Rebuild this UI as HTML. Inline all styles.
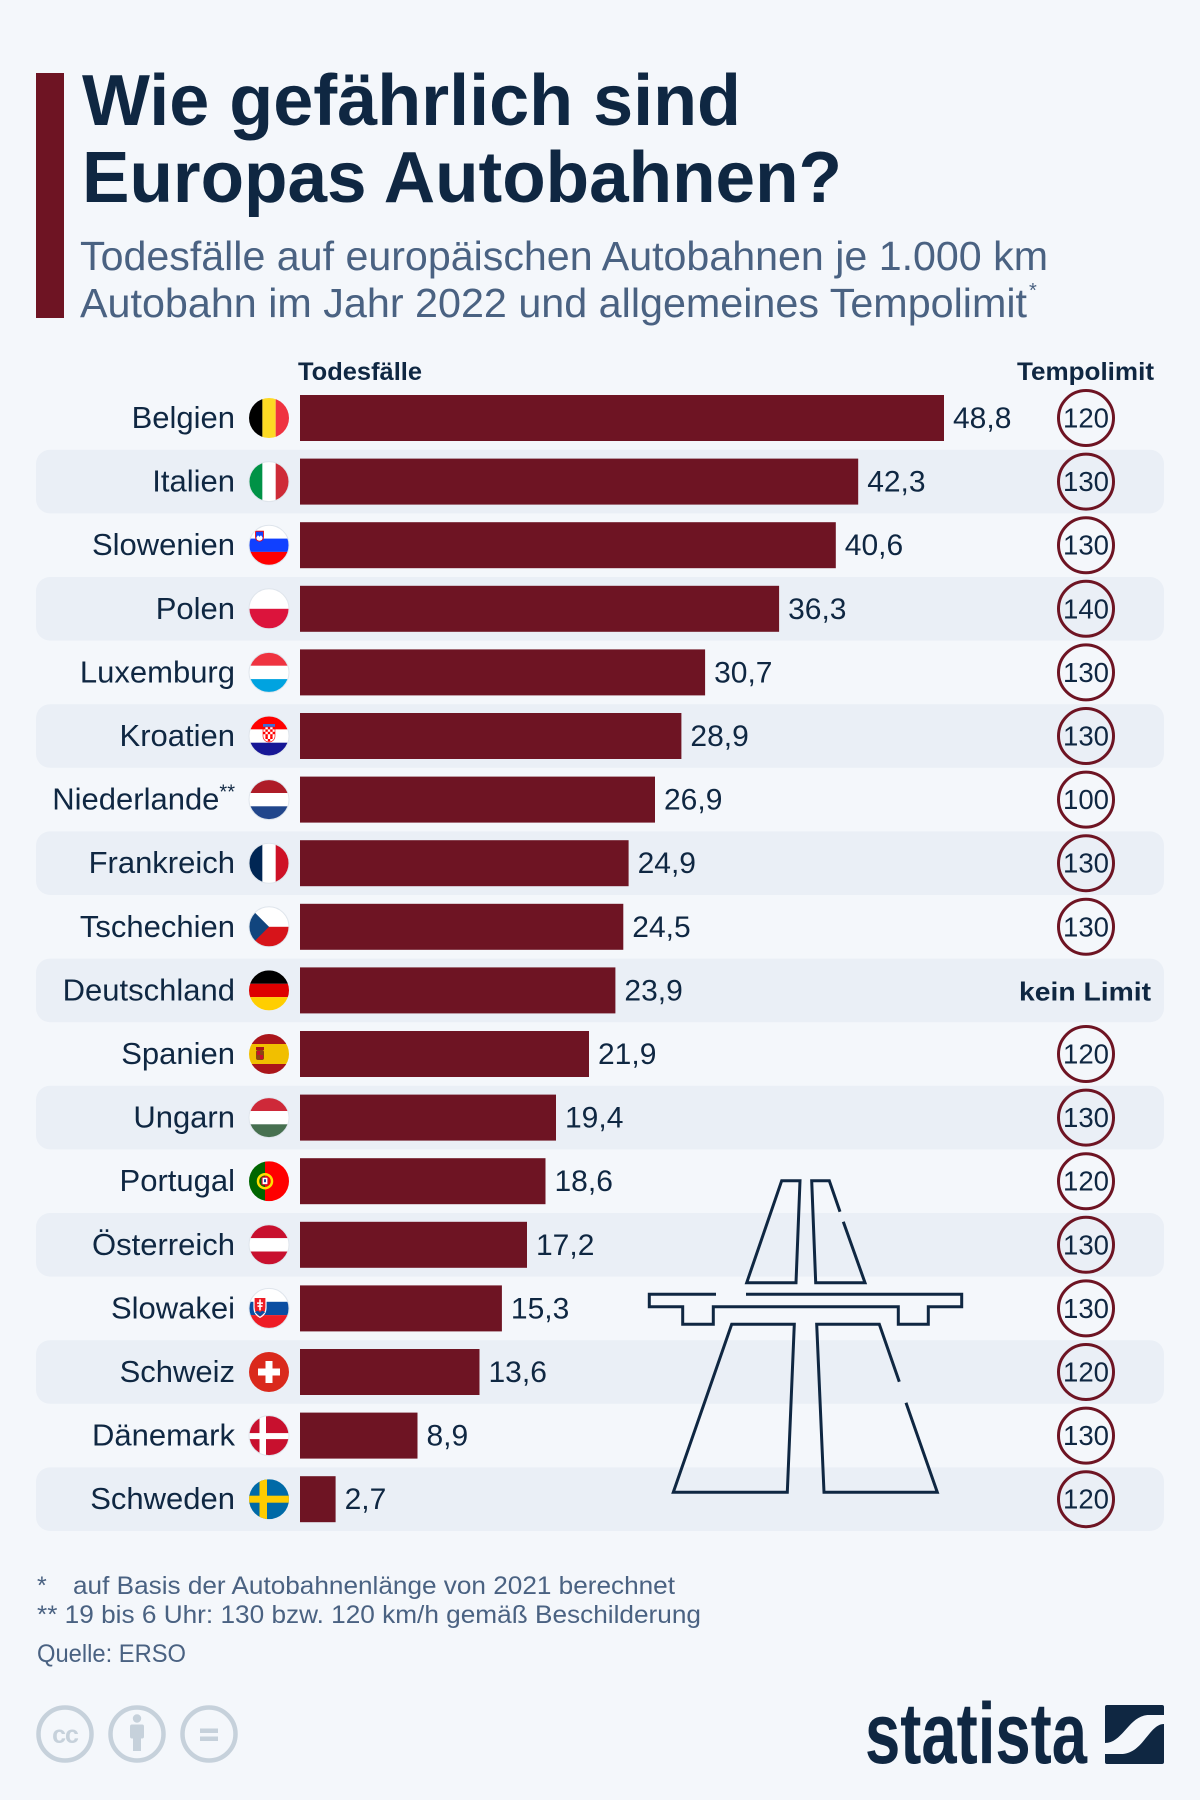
<!DOCTYPE html>
<html>
<head>
<meta charset="utf-8">
<style>
html,body{margin:0;padding:0;background:#f4f7fb;}
svg{display:block;}
</style>
</head>
<body>
<svg width="1200" height="1800" viewBox="0 0 1200 1800" xmlns="http://www.w3.org/2000/svg" font-family="'Liberation Sans', sans-serif">
<defs>
<clipPath id="fc"><circle cx="0" cy="0" r="20"/></clipPath>
</defs>
<rect x="0" y="0" width="1200" height="1800" fill="#f4f7fb"/>

<!-- Title block -->
<rect x="36" y="73" width="28" height="245" fill="#6e1423"/>
<text x="82" y="125" font-size="72" font-weight="bold" fill="#0f2742" textLength="659" lengthAdjust="spacingAndGlyphs">Wie gefährlich sind</text>
<text x="82" y="202" font-size="72" font-weight="bold" fill="#0f2742" textLength="760" lengthAdjust="spacingAndGlyphs">Europas Autobahnen?</text>
<text x="80" y="270" font-size="41" fill="#4a6282" textLength="968" lengthAdjust="spacingAndGlyphs">Todesfälle auf europäischen Autobahnen je 1.000 km</text>
<text x="80" y="317" font-size="41" fill="#4a6282" textLength="947" lengthAdjust="spacingAndGlyphs">Autobahn im Jahr 2022 und allgemeines Tempolimit</text>
<text x="1029" y="297" font-size="20" fill="#4a6282">*</text>

<!-- Headers -->
<text x="298" y="380" font-size="25" font-weight="bold" fill="#0f2742" textLength="124" lengthAdjust="spacingAndGlyphs">Todesfälle</text>
<text x="1017" y="380" font-size="25" font-weight="bold" fill="#0f2742" textLength="137" lengthAdjust="spacingAndGlyphs">Tempolimit</text>

<!-- Stripes -->
<g fill="#eaeff6">
<rect x="36" y="449.8" width="1128" height="63.6" rx="14"/>
<rect x="36" y="577" width="1128" height="63.6" rx="14"/>
<rect x="36" y="704.2" width="1128" height="63.6" rx="14"/>
<rect x="36" y="831.4" width="1128" height="63.6" rx="14"/>
<rect x="36" y="958.6" width="1128" height="63.6" rx="14"/>
<rect x="36" y="1085.8" width="1128" height="63.6" rx="14"/>
<rect x="36" y="1213" width="1128" height="63.6" rx="14"/>
<rect x="36" y="1340.2" width="1128" height="63.6" rx="14"/>
<rect x="36" y="1467.4" width="1128" height="63.6" rx="14"/>
</g>

<!-- Highway icon -->
<g fill="none" stroke="#0f2742" stroke-width="3" stroke-linejoin="miter">
<path d="M781.7,1180.7 L800,1180.7 L796,1282.7 L746.7,1282.7 Z"/>
<path d="M840,1211.7 L829.3,1180.7 L811.7,1180.7 L815.7,1282.7 L865,1282.7 L843.3,1221.7"/>
<path d="M716,1294.3 L649.3,1294.3 L649.3,1306.7 L682.7,1306.7 L682.7,1324.3 L713.3,1324.3 L713.3,1306.7 L898.3,1306.7 L898.3,1324.3 L928.3,1324.3 L928.3,1306.7 L961.7,1306.7 L961.7,1294.3 L746,1294.3"/>
<path d="M731.7,1324.3 L794.3,1324.3 L787.3,1492.3 L673.3,1492.3 Z"/>
<path d="M899.3,1381.7 L879.3,1324.3 L816.7,1324.3 L824,1492.3 L937.3,1492.3 L906,1402.7"/>
</g>

<!-- Bars -->
<g fill="#6e1423">
<rect x="300" y="395" width="644" height="46"/>
<rect x="300" y="458.6" width="558.2" height="46"/>
<rect x="300" y="522.2" width="535.8" height="46"/>
<rect x="300" y="585.8" width="479.1" height="46"/>
<rect x="300" y="649.4" width="405.1" height="46"/>
<rect x="300" y="713" width="381.4" height="46"/>
<rect x="300" y="776.6" width="355" height="46"/>
<rect x="300" y="840.2" width="328.6" height="46"/>
<rect x="300" y="903.8" width="323.3" height="46"/>
<rect x="300" y="967.4" width="315.4" height="46"/>
<rect x="300" y="1031" width="289" height="46"/>
<rect x="300" y="1094.6" width="256" height="46"/>
<rect x="300" y="1158.2" width="245.5" height="46"/>
<rect x="300" y="1221.8" width="227" height="46"/>
<rect x="300" y="1285.4" width="201.9" height="46"/>
<rect x="300" y="1349" width="179.5" height="46"/>
<rect x="300" y="1412.6" width="117.5" height="46"/>
<rect x="300" y="1476.2" width="35.6" height="46"/>
</g>

<!-- Values -->
<g font-size="30" fill="#0f2742">
<text x="953" y="428">48,8</text>
<text x="867.2" y="491.6">42,3</text>
<text x="844.8" y="555.2">40,6</text>
<text x="788.1" y="618.8">36,3</text>
<text x="714.1" y="682.4">30,7</text>
<text x="690.4" y="746">28,9</text>
<text x="664" y="809.6">26,9</text>
<text x="637.6" y="873.2">24,9</text>
<text x="632.3" y="936.8">24,5</text>
<text x="624.4" y="1000.4">23,9</text>
<text x="598" y="1064">21,9</text>
<text x="565" y="1127.6">19,4</text>
<text x="554.5" y="1191.2">18,6</text>
<text x="536" y="1254.8">17,2</text>
<text x="510.9" y="1318.4">15,3</text>
<text x="488.5" y="1382">13,6</text>
<text x="426.5" y="1445.6">8,9</text>
<text x="344.6" y="1509.2">2,7</text>
</g>

<!-- Labels -->
<g font-size="31" fill="#0f2742" text-anchor="end">
<text x="235" y="428">Belgien</text>
<text x="235" y="491.6">Italien</text>
<text x="235" y="555.2">Slowenien</text>
<text x="235" y="618.8">Polen</text>
<text x="235" y="682.4">Luxemburg</text>
<text x="235" y="746">Kroatien</text>
<text x="235" y="809.6">Niederlande<tspan font-size="20" dy="-11">**</tspan></text>
<text x="235" y="873.2">Frankreich</text>
<text x="235" y="936.8">Tschechien</text>
<text x="235" y="1000.4">Deutschland</text>
<text x="235" y="1064">Spanien</text>
<text x="235" y="1127.6">Ungarn</text>
<text x="235" y="1191.2">Portugal</text>
<text x="235" y="1254.8">Österreich</text>
<text x="235" y="1318.4">Slowakei</text>
<text x="235" y="1382">Schweiz</text>
<text x="235" y="1445.6">Dänemark</text>
<text x="235" y="1509.2">Schweden</text>
</g>

<!-- Speed limit circles -->
<g fill="none" stroke="#6e1423" stroke-width="3">
<circle cx="1086" cy="418" r="27.5"/>
<circle cx="1086" cy="481.6" r="27.5"/>
<circle cx="1086" cy="545.2" r="27.5"/>
<circle cx="1086" cy="608.8" r="27.5"/>
<circle cx="1086" cy="672.4" r="27.5"/>
<circle cx="1086" cy="736" r="27.5"/>
<circle cx="1086" cy="799.6" r="27.5"/>
<circle cx="1086" cy="863.2" r="27.5"/>
<circle cx="1086" cy="926.8" r="27.5"/>
<circle cx="1086" cy="1054" r="27.5"/>
<circle cx="1086" cy="1117.6" r="27.5"/>
<circle cx="1086" cy="1181.2" r="27.5"/>
<circle cx="1086" cy="1244.8" r="27.5"/>
<circle cx="1086" cy="1308.4" r="27.5"/>
<circle cx="1086" cy="1372" r="27.5"/>
<circle cx="1086" cy="1435.6" r="27.5"/>
<circle cx="1086" cy="1499.2" r="27.5"/>
</g>
<g font-size="28" fill="#0f2742" text-anchor="middle">
<text x="1086" y="427.5" textLength="46" lengthAdjust="spacingAndGlyphs">120</text>
<text x="1086" y="491.1" textLength="46" lengthAdjust="spacingAndGlyphs">130</text>
<text x="1086" y="554.7" textLength="46" lengthAdjust="spacingAndGlyphs">130</text>
<text x="1086" y="618.3" textLength="46" lengthAdjust="spacingAndGlyphs">140</text>
<text x="1086" y="681.9" textLength="46" lengthAdjust="spacingAndGlyphs">130</text>
<text x="1086" y="745.5" textLength="46" lengthAdjust="spacingAndGlyphs">130</text>
<text x="1086" y="809.1" textLength="46" lengthAdjust="spacingAndGlyphs">100</text>
<text x="1086" y="872.7" textLength="46" lengthAdjust="spacingAndGlyphs">130</text>
<text x="1086" y="936.3" textLength="46" lengthAdjust="spacingAndGlyphs">130</text>
<text x="1086" y="1063.5" textLength="46" lengthAdjust="spacingAndGlyphs">120</text>
<text x="1086" y="1127.1" textLength="46" lengthAdjust="spacingAndGlyphs">130</text>
<text x="1086" y="1190.7" textLength="46" lengthAdjust="spacingAndGlyphs">120</text>
<text x="1086" y="1254.3" textLength="46" lengthAdjust="spacingAndGlyphs">130</text>
<text x="1086" y="1317.9" textLength="46" lengthAdjust="spacingAndGlyphs">130</text>
<text x="1086" y="1381.5" textLength="46" lengthAdjust="spacingAndGlyphs">120</text>
<text x="1086" y="1445.1" textLength="46" lengthAdjust="spacingAndGlyphs">130</text>
<text x="1086" y="1508.7" textLength="46" lengthAdjust="spacingAndGlyphs">120</text>
</g>
<text x="1019" y="1000.7" font-size="26" font-weight="bold" fill="#0f2742" textLength="132" lengthAdjust="spacingAndGlyphs">kein Limit</text>

<!-- Flags -->
<!-- Belgium -->
<g transform="translate(269,418)"><g clip-path="url(#fc)">
<rect x="-20" y="-20" width="13.4" height="40" fill="#000"/>
<rect x="-6.6" y="-20" width="13.3" height="40" fill="#fdda24"/>
<rect x="6.7" y="-20" width="13.3" height="40" fill="#ef3340"/>
</g></g>
<!-- Italy -->
<g transform="translate(269,481.6)"><g clip-path="url(#fc)">
<rect x="-20" y="-20" width="13.4" height="40" fill="#009246"/>
<rect x="-6.6" y="-20" width="13.3" height="40" fill="#fff"/>
<rect x="6.7" y="-20" width="13.3" height="40" fill="#ce2b37"/>
</g><circle r="20" fill="none" stroke="#dfe5ec" stroke-width="1"/></g>
<!-- Slovenia -->
<g transform="translate(269,545.2)"><g clip-path="url(#fc)">
<rect x="-20" y="-20" width="40" height="13.4" fill="#fff"/>
<rect x="-20" y="-6.6" width="40" height="13.3" fill="#1040ff"/>
<rect x="-20" y="6.7" width="40" height="13.3" fill="#ff0000"/>
<path d="M-13.5,-14 h8 v6 a4,4 0 0 1 -8,0 z" fill="#1040ff" stroke="#ff0000" stroke-width="0.8"/>
<path d="M-12.5,-8 l1.5,-2 l1.5,1.5 l1.5,-1.5 l1.5,2 v1 a3,2.5 0 0 1 -6,0 z" fill="#fff"/>
</g><circle r="20" fill="none" stroke="#dfe5ec" stroke-width="1"/></g>
<!-- Poland -->
<g transform="translate(269,608.8)"><g clip-path="url(#fc)">
<rect x="-20" y="-20" width="40" height="20" fill="#fff"/>
<rect x="-20" y="0" width="40" height="20" fill="#dc143c"/>
</g><circle r="20" fill="none" stroke="#dfe5ec" stroke-width="1"/></g>
<!-- Luxembourg -->
<g transform="translate(269,672.4)"><g clip-path="url(#fc)">
<rect x="-20" y="-20" width="40" height="13.4" fill="#ef3340"/>
<rect x="-20" y="-6.6" width="40" height="13.3" fill="#fff"/>
<rect x="-20" y="6.7" width="40" height="13.3" fill="#00a3e0"/>
</g><circle r="20" fill="none" stroke="#dfe5ec" stroke-width="1"/></g>
<!-- Croatia -->
<g transform="translate(269,736)"><g clip-path="url(#fc)">
<rect x="-20" y="-20" width="40" height="13.4" fill="#ff0000"/>
<rect x="-20" y="-6.6" width="40" height="13.3" fill="#fff"/>
<rect x="-20" y="6.7" width="40" height="13.3" fill="#171796"/>
<rect x="-6" y="-12" width="12" height="3" fill="#3a6fd8"/>
<path d="M-6,-9 h12 v9 a6,6 0 0 1 -12,0 z" fill="#fff" stroke="#ff0000" stroke-width="0.6"/>
<g fill="#ff0000">
<rect x="-6" y="-9" width="2.4" height="2.4"/><rect x="-1.2" y="-9" width="2.4" height="2.4"/><rect x="3.6" y="-9" width="2.4" height="2.4"/>
<rect x="-3.6" y="-6.6" width="2.4" height="2.4"/><rect x="1.2" y="-6.6" width="2.4" height="2.4"/>
<rect x="-6" y="-4.2" width="2.4" height="2.4"/><rect x="-1.2" y="-4.2" width="2.4" height="2.4"/><rect x="3.6" y="-4.2" width="2.4" height="2.4"/>
<rect x="-3.6" y="-1.8" width="2.4" height="2.4"/><rect x="1.2" y="-1.8" width="2.4" height="2.4"/>
<rect x="-3.6" y="0.6" width="2.4" height="2.4"/><rect x="-1.2" y="3" width="2.4" height="2.4"/><rect x="1.2" y="0.6" width="2.4" height="2.4"/>
</g>
</g><circle r="20" fill="none" stroke="#dfe5ec" stroke-width="1"/></g>
<!-- Netherlands -->
<g transform="translate(269,799.6)"><g clip-path="url(#fc)">
<rect x="-20" y="-20" width="40" height="13.4" fill="#ae1c28"/>
<rect x="-20" y="-6.6" width="40" height="13.3" fill="#fff"/>
<rect x="-20" y="6.7" width="40" height="13.3" fill="#21468b"/>
</g><circle r="20" fill="none" stroke="#dfe5ec" stroke-width="1"/></g>
<!-- France -->
<g transform="translate(269,863.2)"><g clip-path="url(#fc)">
<rect x="-20" y="-20" width="13.4" height="40" fill="#002654"/>
<rect x="-6.6" y="-20" width="13.3" height="40" fill="#fff"/>
<rect x="6.7" y="-20" width="13.3" height="40" fill="#ce1126"/>
</g><circle r="20" fill="none" stroke="#dfe5ec" stroke-width="1"/></g>
<!-- Czech -->
<g transform="translate(269,926.8)"><g clip-path="url(#fc)">
<rect x="-20" y="-20" width="40" height="20" fill="#fff"/>
<rect x="-20" y="0" width="40" height="20" fill="#d7141a"/>
<path d="M-20,-20 L0,0 L-20,20 Z" fill="#11457e"/>
</g><circle r="20" fill="none" stroke="#dfe5ec" stroke-width="1"/></g>
<!-- Germany -->
<g transform="translate(269,990.4)"><g clip-path="url(#fc)">
<rect x="-20" y="-20" width="40" height="13.4" fill="#000"/>
<rect x="-20" y="-6.6" width="40" height="13.3" fill="#dd0000"/>
<rect x="-20" y="6.7" width="40" height="13.3" fill="#ffce00"/>
</g></g>
<!-- Spain -->
<g transform="translate(269,1054)"><g clip-path="url(#fc)">
<rect x="-20" y="-20" width="40" height="10" fill="#aa151b"/>
<rect x="-20" y="-10" width="40" height="20" fill="#f1bf00"/>
<rect x="-20" y="10" width="40" height="10" fill="#aa151b"/>
<rect x="-13" y="-7" width="8" height="3" fill="#ad1519"/>
<rect x="-13" y="-4" width="8" height="10" rx="2" fill="#8b4513"/>
<rect x="-12" y="-3" width="3" height="4" fill="#c8102e"/>
<rect x="-9" y="1" width="3" height="4" fill="#c8102e"/>
</g></g>
<!-- Hungary -->
<g transform="translate(269,1117.6)"><g clip-path="url(#fc)">
<rect x="-20" y="-20" width="40" height="13.4" fill="#ce2939"/>
<rect x="-20" y="-6.6" width="40" height="13.3" fill="#fff"/>
<rect x="-20" y="6.7" width="40" height="13.3" fill="#477050"/>
</g><circle r="20" fill="none" stroke="#dfe5ec" stroke-width="1"/></g>
<!-- Portugal -->
<g transform="translate(269,1181.2)"><g clip-path="url(#fc)">
<rect x="-20" y="-20" width="16" height="40" fill="#006600"/>
<rect x="-4" y="-20" width="24" height="40" fill="#ff0000"/>
<circle cx="-4" cy="0" r="7" fill="none" stroke="#ffe000" stroke-width="2.5"/>
<rect x="-7" y="-4" width="6" height="7.5" rx="1" fill="#fff" stroke="#c8102e" stroke-width="1.2"/>
<rect x="-5" y="-2" width="2" height="3" fill="#1d4aa0"/>
</g></g>
<!-- Austria -->
<g transform="translate(269,1244.8)"><g clip-path="url(#fc)">
<rect x="-20" y="-20" width="40" height="13.4" fill="#c8102e"/>
<rect x="-20" y="-6.6" width="40" height="13.3" fill="#fff"/>
<rect x="-20" y="6.7" width="40" height="13.3" fill="#c8102e"/>
</g><circle r="20" fill="none" stroke="#dfe5ec" stroke-width="1"/></g>
<!-- Slovakia -->
<g transform="translate(269,1308.4)"><g clip-path="url(#fc)">
<rect x="-20" y="-20" width="40" height="13.4" fill="#fff"/>
<rect x="-20" y="-6.6" width="40" height="13.3" fill="#0b4ea2"/>
<rect x="-20" y="6.7" width="40" height="13.3" fill="#ee1c25"/>
<path d="M-15,-11 h12 v10 q0,7 -6,10 q-6,-3 -6,-10 z" fill="#ee1c25" stroke="#fff" stroke-width="1.2"/>
<rect x="-9.8" y="-9" width="1.6" height="11" fill="#fff"/>
<rect x="-12" y="-6" width="6" height="1.5" fill="#fff"/>
<rect x="-11.5" y="-3" width="5" height="1.5" fill="#fff"/>
<path d="M-14,4 q2.5,-3 5,0 q2.5,-3 5,0 l-5,4 z" fill="#0b4ea2"/>
</g><circle r="20" fill="none" stroke="#dfe5ec" stroke-width="1"/></g>
<!-- Switzerland -->
<g transform="translate(269,1372)"><g clip-path="url(#fc)">
<rect x="-20" y="-20" width="40" height="40" fill="#da291c"/>
<rect x="-3.5" y="-11" width="7" height="22" fill="#fff"/>
<rect x="-11" y="-3.5" width="22" height="7" fill="#fff"/>
</g></g>
<!-- Denmark -->
<g transform="translate(269,1435.6)"><g clip-path="url(#fc)">
<rect x="-20" y="-20" width="40" height="40" fill="#c8102e"/>
<rect x="-9.5" y="-20" width="6.5" height="40" fill="#fff"/>
<rect x="-20" y="-2.5" width="40" height="6" fill="#fff"/>
</g><circle r="20" fill="none" stroke="#dfe5ec" stroke-width="1"/></g>
<!-- Sweden -->
<g transform="translate(269,1499.2)"><g clip-path="url(#fc)">
<rect x="-20" y="-20" width="40" height="40" fill="#006aa7"/>
<rect x="-9.5" y="-20" width="7.5" height="40" fill="#fecc00"/>
<rect x="-20" y="-3.5" width="40" height="7" fill="#fecc00"/>
</g></g>

<!-- Footnotes -->
<g font-size="25" fill="#4a6282">
<text x="37" y="1594">*</text>
<text x="73" y="1594" textLength="602" lengthAdjust="spacingAndGlyphs">auf Basis der Autobahnenlänge von 2021 berechnet</text>
<text x="37" y="1623" textLength="664" lengthAdjust="spacingAndGlyphs">** 19 bis 6 Uhr: 130 bzw. 120 km/h gemäß Beschilderung</text>
<text x="37" y="1662" textLength="149" lengthAdjust="spacingAndGlyphs">Quelle: ERSO</text>
</g>

<!-- CC icons -->
<g fill="none" stroke="#c6d1db" stroke-width="4.5">
<circle cx="65" cy="1734" r="26.5"/>
<circle cx="137" cy="1734" r="26.5"/>
<circle cx="209" cy="1734" r="26.5"/>
</g>
<text x="65" y="1743" font-size="25" font-weight="bold" fill="#c6d1db" text-anchor="middle" letter-spacing="-1">cc</text>
<g fill="#c6d1db">
<circle cx="137" cy="1718.5" r="4.2"/>
<rect x="130" y="1724.5" width="14" height="14" rx="2"/>
<rect x="133" y="1736" width="8" height="15"/>
<rect x="200" y="1728.5" width="18" height="4.5"/>
<rect x="200" y="1736.5" width="18" height="4.5"/>
</g>

<!-- Statista logo -->
<text x="865" y="1763" font-size="86" font-weight="bold" fill="#0f2742" textLength="222" lengthAdjust="spacingAndGlyphs">statista</text>
<g transform="translate(1105,1705)">
<rect x="0" y="0" width="59" height="59" rx="2" fill="#0f2742"/>
<path d="M0,38 C18,38 24,10 44,10 L59,10 L59,19 C44,19 38,49 16,49 L0,49 Z" fill="#f4f7fb"/>
</g>
</svg>
</body>
</html>
